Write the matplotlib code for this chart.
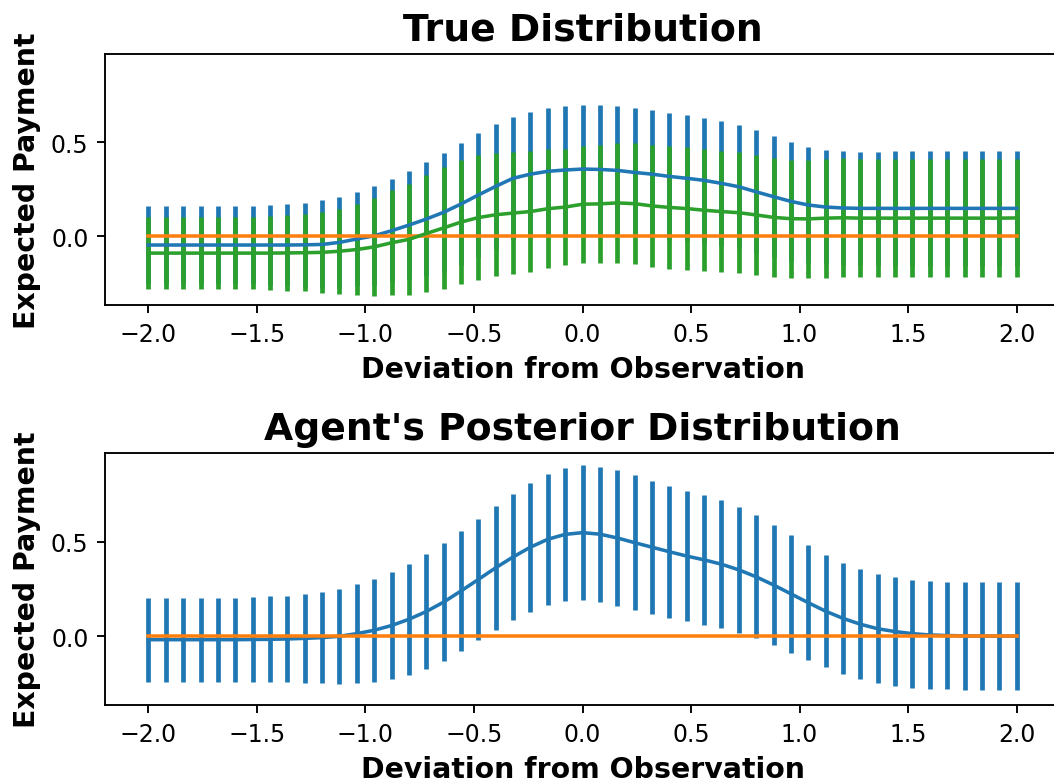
import numpy as np
import matplotlib
matplotlib.use('Agg')
import matplotlib.pyplot as plt

# deviation grid (51 points from -2 to 2)
deviation = np.linspace(-2.0, 2.0, 51)

# true distribution: first series (blue)
true_mean_a = [-0.046, -0.046, -0.046, -0.046, -0.046, -0.046, -0.046, -0.046, -0.046, -0.045,
               -0.043, -0.032, -0.014, 0.003, 0.030, 0.060, 0.092, 0.128, 0.172, 0.220,
               0.266, 0.309, 0.331, 0.346, 0.353, 0.358, 0.356, 0.351, 0.340, 0.331,
               0.319, 0.309, 0.298, 0.282, 0.264, 0.237, 0.211, 0.186, 0.167, 0.156,
               0.151, 0.149, 0.149, 0.149, 0.149, 0.149, 0.149, 0.149, 0.149, 0.149, 0.149]
true_std_a = [0.209, 0.209, 0.209, 0.209, 0.209, 0.209, 0.209, 0.212, 0.218, 0.224,
              0.234, 0.241, 0.248, 0.263, 0.275, 0.289, 0.303, 0.317, 0.326, 0.331,
              0.331, 0.327, 0.333, 0.335, 0.338, 0.340, 0.342, 0.340, 0.341, 0.339,
              0.339, 0.336, 0.333, 0.331, 0.328, 0.328, 0.323, 0.317, 0.311, 0.305,
              0.301, 0.299, 0.299, 0.305, 0.307, 0.307, 0.307, 0.307, 0.307, 0.307, 0.307]

# true distribution: baseline (orange)
true_mean_b = [0.0] * 51
true_std_b = [0.0] * 51

# true distribution: third series (green)
true_mean_c = [-0.089, -0.089, -0.089, -0.089, -0.089, -0.089, -0.089, -0.089, -0.088, -0.087,
               -0.085, -0.079, -0.070, -0.056, -0.034, -0.016, 0.015, 0.045, 0.076, 0.100,
               0.115, 0.124, 0.132, 0.147, 0.156, 0.171, 0.173, 0.178, 0.174, 0.162,
               0.154, 0.148, 0.139, 0.132, 0.126, 0.114, 0.101, 0.094, 0.093, 0.097,
               0.099, 0.097, 0.097, 0.097, 0.097, 0.097, 0.097, 0.097, 0.097, 0.097, 0.098]
true_std_c = [0.193, 0.193, 0.193, 0.193, 0.193, 0.193, 0.193, 0.197, 0.200, 0.206,
              0.214, 0.226, 0.243, 0.260, 0.279, 0.294, 0.310, 0.324, 0.330, 0.332,
              0.328, 0.324, 0.320, 0.317, 0.310, 0.311, 0.313, 0.318, 0.323, 0.325,
              0.326, 0.327, 0.325, 0.324, 0.323, 0.320, 0.317, 0.314, 0.315, 0.317,
              0.317, 0.315, 0.315, 0.315, 0.315, 0.315, 0.315, 0.315, 0.315, 0.315, 0.316]

# agent's posterior: first series (blue)
post_mean_a = [-0.019, -0.019, -0.019, -0.019, -0.019, -0.019, -0.018, -0.017, -0.015, -0.012,
               -0.008, -0.001, 0.013, 0.031, 0.056, 0.089, 0.130, 0.180, 0.239, 0.300,
               0.362, 0.419, 0.471, 0.513, 0.539, 0.548, 0.540, 0.520, 0.495, 0.471,
               0.447, 0.424, 0.404, 0.381, 0.351, 0.314, 0.271, 0.224, 0.177, 0.132,
               0.094, 0.063, 0.039, 0.024, 0.013, 0.006, 0.003, 0.001, 0.0, 0.0, 0.0]
post_std_a = [0.222, 0.222, 0.222, 0.222, 0.222, 0.222, 0.224, 0.227, 0.230, 0.235,
              0.243, 0.252, 0.261, 0.273, 0.283, 0.294, 0.303, 0.311, 0.319, 0.323,
              0.328, 0.336, 0.342, 0.347, 0.353, 0.357, 0.358, 0.358, 0.356, 0.352,
              0.350, 0.346, 0.343, 0.338, 0.333, 0.326, 0.319, 0.311, 0.304, 0.298,
              0.293, 0.290, 0.288, 0.287, 0.286, 0.285, 0.285, 0.285, 0.284, 0.284, 0.284]

# agent's posterior: baseline (orange)
post_mean_b = [0.0] * 51
post_std_b = [0.0] * 51

fig, (ax1, ax2) = plt.subplots(2, 1, figsize=(1054 / 170, 782 / 170), dpi=170)

ax1.errorbar(deviation, true_mean_a, yerr=true_std_a, elinewidth=2)
ax1.errorbar(deviation, true_mean_b, yerr=true_std_b, elinewidth=2)
ax1.errorbar(deviation, true_mean_c, yerr=true_std_c, elinewidth=2)
ax1.set_title('True Distribution', fontsize=16, fontweight='bold')

ax2.errorbar(deviation, post_mean_a, yerr=post_std_a, elinewidth=2)
ax2.errorbar(deviation, post_mean_b, yerr=post_std_b, elinewidth=2)
ax2.set_title("Agent's Posterior Distribution", fontsize=16, fontweight='bold')

for ax in (ax1, ax2):
    ax.set_xlabel('Deviation from Observation', fontsize=12, fontweight='bold')
    ax.set_ylabel('Expected Payment', fontsize=12, fontweight='bold')
    ax.set_ylim(-0.365, 0.97)
    ax.set_xlim(-2.2, 2.2)

ax1.set_position([105 / 1054, 1 - 306 / 782, 955 / 1054, 251 / 782])
ax2.set_position([105 / 1054, 1 - 706 / 782, 955 / 1054, 252 / 782])

fig.savefig('out.png', dpi=170)
